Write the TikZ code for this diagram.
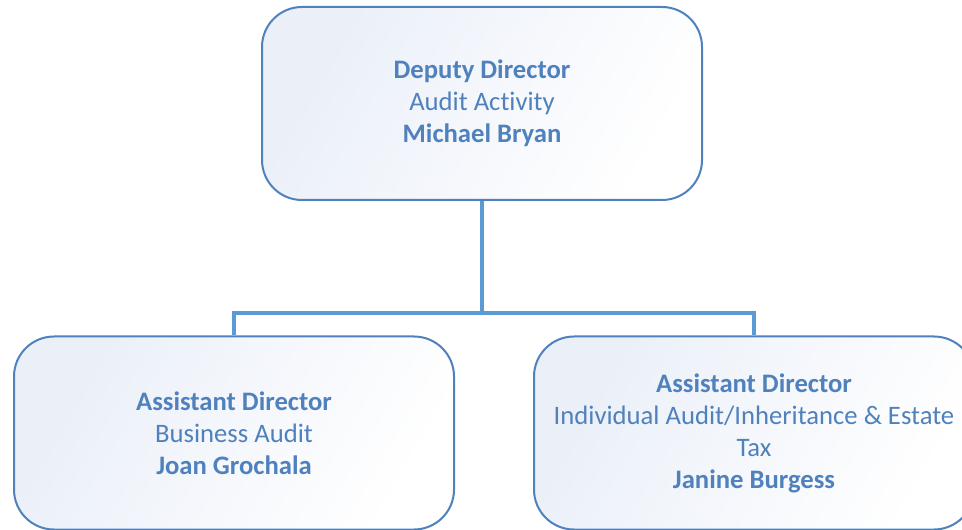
\documentclass[tikz,border=0pt]{standalone}
\usepackage{fontspec}
\setmainfont[Ligatures={NoCommon}]{Carlito}
\definecolor{orgblue}{HTML}{4F81BD}
\definecolor{orglink}{HTML}{5B9BD5}
\definecolor{orgfill}{HTML}{EAEFF8}
\tikzset{
  unitbox/.style={draw=orgblue, line width=1.5pt, rounded corners=30pt,
    minimum width=330pt, minimum height=144.75pt, align=center,
    left color=orgfill, right color=white, shading angle=60,
    text=orgblue, font=\fontsize{20}{24}\selectfont, inner sep=0pt},
  link/.style={draw=orglink, line width=2.5pt}
}
\begin{document}
\begin{tikzpicture}[x=0.75pt,y=-0.75pt]
  \clip (0,0) rectangle (962,530);

  \node[unitbox] (deputy) at (482,103.5)
    {\textbf{Deputy Director}\\Audit Activity\\\textbf{Michael Bryan}};
  \node[unitbox] (business) at (234,433)
    {\textbf{Assistant Director}\\Business Audit\\\textbf{Joan Grochala}};
  \node[unitbox] (individual) at (754,433)
    {\textbf{Assistant Director}\\Individual Audit/Inheritance \& Estate\\Tax\\\textbf{Janine Burgess}};

  \coordinate (split) at (482,313);
  \draw[link] (deputy.south) -- (split);
  \draw[link] (business.north) |- (split) -| (individual.north);
\end{tikzpicture}
\end{document}
